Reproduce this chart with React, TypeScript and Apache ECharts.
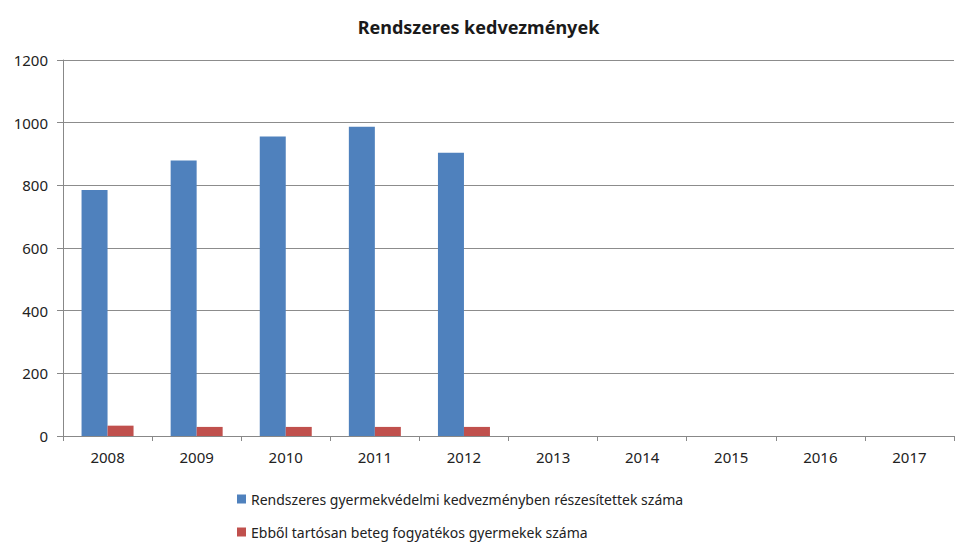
import React, { useEffect, useRef } from "react";
import * as echarts from "echarts";

const years = ["2008", "2009", "2010", "2011", "2012", "2013", "2014", "2015", "2016", "2017"];
const seriesNames = [
  "Rendszeres gyermekvédelmi kedvezményben részesítettek száma",
  "Ebből tartósan beteg fogyatékos gyermekek száma",
];
const beneficiaries = [785, 879, 956, 987, 904, null, null, null, null, null];
const chronicallyIll = [33, 29, 29, 29, 29, null, null, null, null, null];
const yTicks = [0, 200, 400, 600, 800, 1000, 1200];

const FONT = "'Noto Sans', 'Open Sans', sans-serif";

export default function App() {
  const ref = useRef<HTMLDivElement>(null);
  useEffect(() => {
    if (!ref.current) return;
    const chart = echarts.init(ref.current, undefined, { renderer: "svg" });
    chart.setOption({
      animation: false,
      backgroundColor: "#ffffff",
      title: {
        text: "Rendszeres kedvezmények",
        left: "center",
        top: 13,
        textStyle: { fontFamily: FONT, fontSize: 18, fontWeight: "bold", color: "#1a1a1a" },
      },
      legend: {
        orient: "vertical",
        left: 232,
        top: 487,
        itemGap: 19,
        itemWidth: 9,
        itemHeight: 9,
        icon: "rect",
        textStyle: { fontFamily: FONT, fontSize: 14, color: "#222" },
        data: seriesNames,
      },
      grid: { left: 63, right: 3, top: 60, bottom: 113, containLabel: false },
      xAxis: {
        type: "category",
        data: years,
        boundaryGap: true,
        axisLine: { lineStyle: { color: "#888", width: 1 } },
        axisTick: { show: true, length: 5, lineStyle: { color: "#888" } },
        axisLabel: { fontFamily: FONT, fontSize: 15, color: "#222", margin: 13 },
      },
      yAxis: {
        type: "value",
        min: yTicks[0],
        max: yTicks[yTicks.length - 1],
        interval: 200,
        axisLine: { show: true, lineStyle: { color: "#888", width: 1 } },
        axisTick: { show: true, length: 6, lineStyle: { color: "#888" } },
        axisLabel: {
          fontFamily: FONT,
          fontSize: 15,
          color: "#222",
          margin: 15,
          formatter: (v: number) => String(v),
        },
        splitLine: { show: true, lineStyle: { color: "#8c8c8c", width: 1 } },
      },
      series: [
        {
          name: seriesNames[0],
          type: "bar",
          data: beneficiaries,
          barWidth: 26,
          barGap: "0%",
          itemStyle: { color: "#4f81bd" },
        },
        {
          name: seriesNames[1],
          type: "bar",
          data: chronicallyIll,
          barWidth: 26,
          itemStyle: { color: "#c0504d" },
        },
      ],
    });
    return () => chart.dispose();
  }, []);
  return (
    <div
      ref={ref}
      style={{ position: "fixed", left: 0, top: 0, width: 957, height: 549 }}
    />
  );
}
